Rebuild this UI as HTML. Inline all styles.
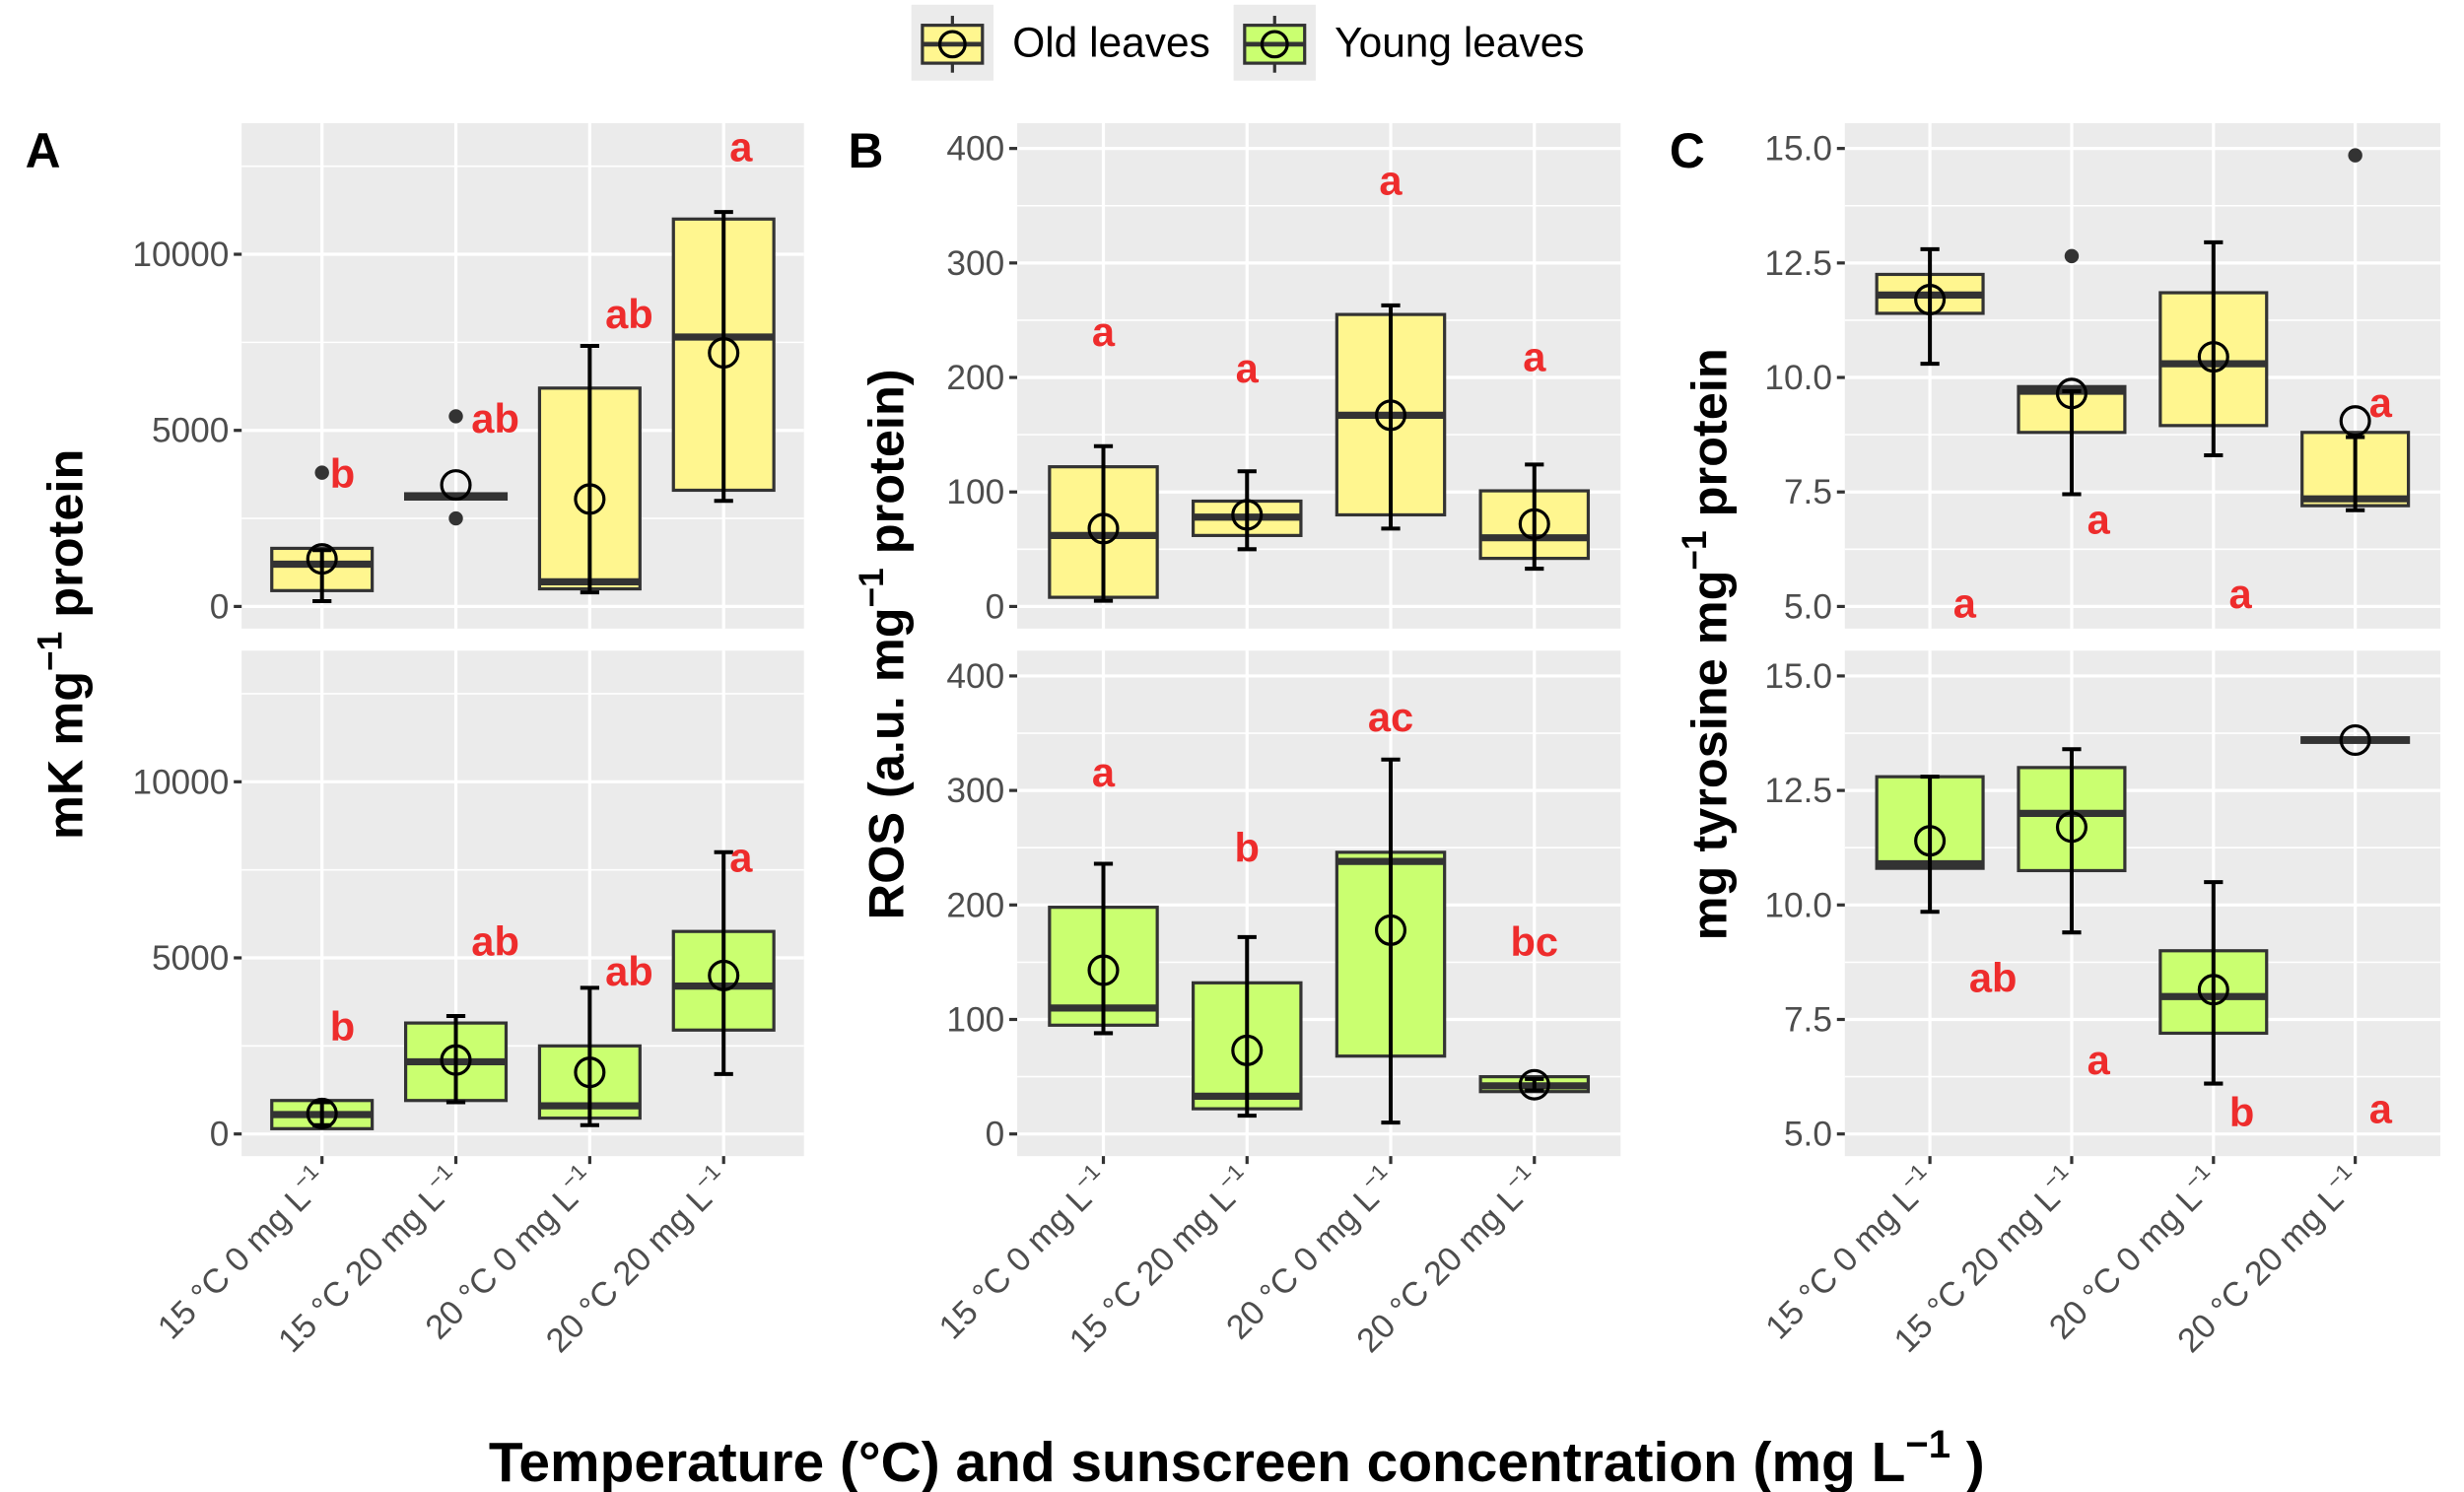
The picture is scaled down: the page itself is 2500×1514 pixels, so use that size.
<!DOCTYPE html>
<html><head><meta charset="utf-8"><style>
html,body{margin:0;padding:0;background:#fff}
svg{display:block}
text{font-family:"Liberation Sans",Arial,sans-serif}
</style></head><body>
<svg id="chart" xmlns="http://www.w3.org/2000/svg" width="2500" height="1514" viewBox="0 0 1560 944.7" preserveAspectRatio="none">
<g id="legend">
  <g>
    <rect x="577" y="3" width="52" height="48" fill="#ebebeb"/>
    <line x1="603" y1="10" x2="603" y2="46" stroke="#333" stroke-width="2"/>
    <rect x="584" y="16" width="38" height="24" fill="#FFF68F" stroke="#333" stroke-width="2"/>
    <line x1="584" y1="28" x2="622" y2="28" stroke="#333" stroke-width="3"/>
    <circle cx="603" cy="28" r="8" fill="none" stroke="#000" stroke-width="2"/>
    <text x="641" y="36" font-size="26.5" fill="#000">Old leaves</text>
  </g>
  <g>
    <rect x="781" y="3" width="52" height="48" fill="#ebebeb"/>
    <line x1="807" y1="10" x2="807" y2="46" stroke="#333" stroke-width="2"/>
    <rect x="788" y="16" width="38" height="24" fill="#CAFF70" stroke="#333" stroke-width="2"/>
    <line x1="788" y1="28" x2="826" y2="28" stroke="#333" stroke-width="3"/>
    <circle cx="807" cy="28" r="8" fill="none" stroke="#000" stroke-width="2"/>
    <text x="845" y="36" font-size="26.5" fill="#000">Young leaves</text>
  </g>
</g>
<text x="16" y="106" font-size="31" font-weight="bold">A</text>
<text x="537" y="106" font-size="31" font-weight="bold">B</text>
<text x="1057" y="106" font-size="31" font-weight="bold">C</text>
<text transform="translate(52,408) rotate(-90)" text-anchor="middle" font-size="31.5" font-weight="bold">mK mg<tspan dy="-13" font-size="22">−1</tspan><tspan dy="13"> protein</tspan></text>
<text transform="translate(572,408) rotate(-90)" text-anchor="middle" font-size="31.5" font-weight="bold">ROS (a.u. mg<tspan dy="-13" font-size="22">−1</tspan><tspan dy="13"> protein)</tspan></text>
<text transform="translate(1093,408) rotate(-90)" text-anchor="middle" font-size="31.5" font-weight="bold">mg tyrosine mg<tspan dy="-13" font-size="22">−1</tspan><tspan dy="13"> protein</tspan></text>
<text x="783" y="938" text-anchor="middle" font-size="35.5" font-weight="bold">Temperature (°C) and sunscreen concentration (mg L<tspan dy="-15" font-size="25">−1</tspan><tspan dy="15"> )</tspan></text>
<g id="plots"></g>
</svg>
<script>
// categories
const categories = ["15 °C  0 mg L", "15 °C  20 mg L", "20 °C  0 mg L", "20 °C  20 mg L"];
// Panel A (mK mg-1 protein)
const aOldQ1 = [450, 3050, 500, 3300];
const aOldMed = [1200, 3120, 700, 7650];
const aOldQ3 = [1650, 3200, 6200, 11000];
const aOldMean = [1350, 3450, 3050, 7200];
const aOldErrLo = [150, 3120, 400, 3000];
const aOldErrHi = [1600, 3120, 7400, 11200];
const aOldOutliers = [[3800], [5400, 2500], [], []];
const aOldLetters = ["b", "ab", "ab", "a"];
const aOldLetterY = [3770, 5340, 8300, 13050];
const aYoungQ1 = [150, 950, 450, 2950];
const aYoungMed = [550, 2050, 800, 4200];
const aYoungQ3 = [950, 3150, 2500, 5750];
const aYoungMean = [580, 2100, 1750, 4500];
const aYoungErrLo = [250, 900, 250, 1700];
const aYoungErrHi = [900, 3350, 4150, 8000];
const aYoungLetters = ["b", "ab", "ab", "a"];
const aYoungLetterY = [3050, 5470, 4620, 7850];
const aTicks = [0, 5000, 10000];
// Panel B (ROS)
const bOldQ1 = [8, 62, 80, 42];
const bOldMed = [62, 78, 167, 60];
const bOldQ3 = [122, 92, 255, 101];
const bOldMean = [68, 80, 167, 72];
const bOldErrLo = [5, 50, 68, 33];
const bOldErrHi = [140, 118, 263, 124];
const bOldLetters = ["a", "a", "a", "a"];
const bOldLetterY = [240, 208, 372, 218];
const bYoungQ1 = [95, 22, 68, 37];
const bYoungMed = [110, 33, 238, 42];
const bYoungQ3 = [198, 132, 246, 50];
const bYoungMean = [143, 73, 178, 43];
const bYoungErrLo = [88, 16, 10, 38];
const bYoungErrHi = [236, 172, 327, 48];
const bYoungLetters = ["a", "b", "ac", "bc"];
const bYoungLetterY = [316, 250, 364, 168];
const bTicks = [0, 100, 200, 300, 400];
// Panel C (mg tyrosine)
const cOldQ1 = [11.4, 8.8, 8.95, 7.2];
const cOldMed = [11.8, 9.7, 10.3, 7.35];
const cOldQ3 = [12.25, 9.8, 11.85, 8.8];
const cOldMean = [11.7, 9.65, 10.45, 9.05];
const cOldErrLo = [10.3, 7.45, 8.3, 7.1];
const cOldErrHi = [12.8, 9.7, 12.95, 8.7];
const cOldOutliers = [[], [12.65], [], [14.85]];
const cOldLetters = ["a", "a", "a", "a"];
const cOldLetterY = [5.07, 6.9, 5.28, 9.45];
const cYoungQ1 = [10.8, 10.75, 7.2, 13.55];
const cYoungMed = [10.9, 12.0, 8.0, 13.6];
const cYoungQ3 = [12.8, 13.0, 9.0, 13.65];
const cYoungMean = [11.4, 11.7, 8.15, 13.6];
const cYoungErrLo = [9.85, 9.4, 6.1, 13.6];
const cYoungErrHi = [12.8, 13.4, 10.5, 13.6];
const cYoungLetters = ["ab", "a", "b", "a"];
const cYoungLetterY = [8.41, 6.62, 5.48, 5.55];
const cTicks = [5.0, 7.5, 10.0, 12.5, 15.0];

const NS = "http://www.w3.org/2000/svg";
const root = document.getElementById('plots');
function mk(tag, attrs, parent) {
  const e = document.createElementNS(NS, tag);
  for (const k in attrs) e.setAttribute(k, attrs[k]);
  parent.appendChild(e);
  return e;
}

const panels = [
  {id:'a', x0:153, x1:509, ticks:aTicks, minor:[2500,7500,12500], fmt:v=>String(v),
   top:{v0:0,v1:10000,y0:384,y1:161}, bot:{v0:0,v1:10000,y0:718,y1:495},
   dxOld:[13,25,25,11], dxYoung:[13,25,25,11],
   old:{q1:aOldQ1,med:aOldMed,q3:aOldQ3,mean:aOldMean,lo:aOldErrLo,hi:aOldErrHi,out:aOldOutliers,let:aOldLetters,ly:aOldLetterY},
   young:{q1:aYoungQ1,med:aYoungMed,q3:aYoungQ3,mean:aYoungMean,lo:aYoungErrLo,hi:aYoungErrHi,out:[[],[],[],[]],let:aYoungLetters,ly:aYoungLetterY}},
  {id:'b', x0:644, x1:1026, ticks:bTicks, minor:[50,150,250,350], fmt:v=>String(v),
   top:{v0:0,v1:400,y0:384,y1:94}, bot:{v0:0,v1:400,y0:718,y1:428},
   dxOld:[0,0,0,0], dxYoung:[0,0,0,0],
   old:{q1:bOldQ1,med:bOldMed,q3:bOldQ3,mean:bOldMean,lo:bOldErrLo,hi:bOldErrHi,out:[[],[],[],[]],let:bOldLetters,ly:bOldLetterY},
   young:{q1:bYoungQ1,med:bYoungMed,q3:bYoungQ3,mean:bYoungMean,lo:bYoungErrLo,hi:bYoungErrHi,out:[[],[],[],[]],let:bYoungLetters,ly:bYoungLetterY}},
  {id:'c', x0:1168, x1:1545, ticks:cTicks, minor:[6.25,8.75,11.25,13.75], fmt:v=>v.toFixed(1),
   top:{v0:5,v1:15,y0:384,y1:94}, bot:{v0:5,v1:15,y0:718,y1:428},
   dxOld:[22,17,17,16], dxYoung:[40,17,18,16],
   old:{q1:cOldQ1,med:cOldMed,q3:cOldQ3,mean:cOldMean,lo:cOldErrLo,hi:cOldErrHi,out:cOldOutliers,let:cOldLetters,ly:cOldLetterY},
   young:{q1:cYoungQ1,med:cYoungMed,q3:cYoungQ3,mean:cYoungMean,lo:cYoungErrLo,hi:cYoungErrHi,out:[[],[],[],[]],let:cYoungLetters,ly:cYoungLetterY}}
];

panels.forEach(p => {
  const unit = (p.x1 - p.x0) / 4.2;
  const xScale = i => p.x0 + unit * (0.6 + i);
  [['top', 78, 398, p.old, '#FFF68F', p.dxOld, 'old'], ['bot', 412, 732, p.young, '#CAFF70', p.dxYoung, 'young']].forEach(([fk, ft, fb, d, fill, dx, grp]) => {
    const sc = p[fk];
    const yScale = v => sc.y0 + (v - sc.v0) * (sc.y1 - sc.y0) / (sc.v1 - sc.v0);
    const g = mk('g', {}, root);
    
    
    const bg = mk('rect', {x:p.x0, y:ft, width:p.x1-p.x0, height:fb-ft, fill:'#ebebeb'}, g);
    
    
    p.minor.forEach(v => { const y = yScale(v); if (y > ft && y < fb) mk('line', {x1:p.x0, x2:p.x1, y1:y, y2:y, stroke:'#fff', 'stroke-width':1}, g); });
    p.ticks.forEach(v => {
      const y = yScale(v);
      mk('line', {x1:p.x0, x2:p.x1, y1:y, y2:y, stroke:'#fff', 'stroke-width':2}, g);
      mk('line', {x1:p.x0-5, x2:p.x0, y1:y, y2:y, stroke:'#333', 'stroke-width':2}, g);
      const t = mk('text', {x:p.x0-8, y:y+7.5, 'text-anchor':'end', 'font-size':22, fill:'#4d4d4d'}, g);
      
      
      t.textContent = p.fmt(v);
    });
    categories.forEach((c, i) => { const x = xScale(i); mk('line', {x1:x, x2:x, y1:ft, y2:fb, stroke:'#fff', 'stroke-width':2}, g); });
    categories.forEach((c, i) => {
      const x = xScale(i), hw = unit * 0.375;
      const bx = mk('g', {}, g);
      
      
      const yq3 = yScale(d.q3[i]), yq1 = yScale(d.q1[i]), ym = yScale(d.med[i]);
      mk('rect', {x:x-hw, y:yq3, width:2*hw, height:Math.max(yq1-yq3, 0.5), fill:fill, stroke:'#333', 'stroke-width':2}, bx);
      mk('line', {x1:x-hw, x2:x+hw, y1:ym, y2:ym, stroke:'#333', 'stroke-width':4.5}, bx);
      d.out[i].forEach(v => { mk('circle', {cx:x, cy:yScale(v), r:4.5, fill:'#333'}, bx); });
      if (d.hi[i] !== d.lo[i]) {
        const cw = 6;
        mk('line', {x1:x, x2:x, y1:yScale(d.lo[i]), y2:yScale(d.hi[i]), stroke:'#000', 'stroke-width':2.5}, bx);
        mk('line', {x1:x-cw, x2:x+cw, y1:yScale(d.lo[i]), y2:yScale(d.lo[i]), stroke:'#000', 'stroke-width':2.5}, bx);
        mk('line', {x1:x-cw, x2:x+cw, y1:yScale(d.hi[i]), y2:yScale(d.hi[i]), stroke:'#000', 'stroke-width':2.5}, bx);
      }
      mk('circle', {cx:x, cy:yScale(d.mean[i]), r:9, fill:'none', stroke:'#000', 'stroke-width':2}, bx);
      const lt = mk('text', {x:x+dx[i], y:yScale(d.ly[i])+9, 'text-anchor':'middle', 'font-size':26, 'font-weight':'bold', fill:'#EE2C2C'}, g);
      
      
      lt.textContent = d.let[i];
    });
  });
  categories.forEach((c, i) => {
    const x = xScale(i);
    mk('line', {x1:x, x2:x, y1:732, y2:737, stroke:'#333', 'stroke-width':2}, root);
    const t = mk('text', {transform:'translate(' + (x+5) + ',749) rotate(-45)', 'text-anchor':'end', 'font-size':21.5, fill:'#4d4d4d'}, root);
    
    
    t.innerHTML = c + '<tspan dy="-9" font-size="14">−1</tspan>';
  });
});
</script>
</body></html>
